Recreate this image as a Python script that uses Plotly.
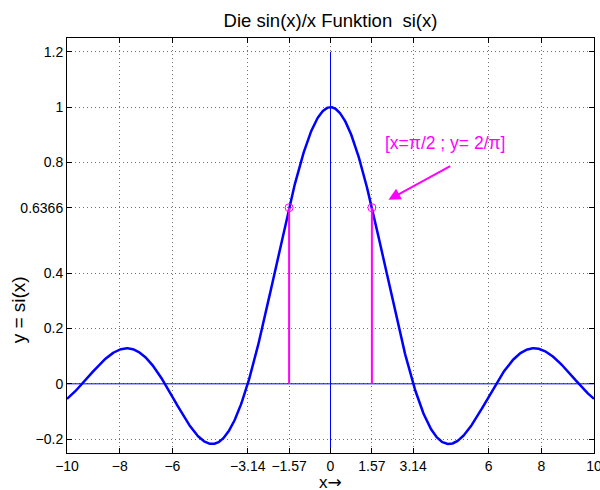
import numpy as np
import plotly.graph_objects as go

# data
x_range = [-10, 10]
y_range = [-0.25, 1.25]
x_tickvals = [-10, -8, -6, -3.14, -1.57, 0, 1.57, 3.14, 6, 8, 10]
x_ticktext = ["\u221210", "\u22128", "\u22126", "\u22123.14", "\u22121.57", "0", "1.57", "3.14", "6", "8", "10"]
y_tickvals = [-0.2, 0, 0.2, 0.4, 0.6366, 0.8, 1, 1.2]
y_ticktext = ["\u22120.2", "0", "0.2", "0.4", "0.6366", "0.8", "1", "1.2"]

# the plotted function si(x) = sin(x)/x
x = np.linspace(-10, 10, 801)
y = np.sinc(x / np.pi)

stem_x = [-np.pi / 2, np.pi / 2]
stem_y = [2 / np.pi, 2 / np.pi]

blue = "#0000FF"
mag = "#FF00FF"
font = "Liberation Sans, Arial"

fig = go.Figure()
fig.add_trace(go.Scatter(x=x_range, y=[0, 0], mode="lines", line=dict(color=blue, width=1), hoverinfo="skip"))
fig.add_trace(go.Scatter(x=[0, 0], y=[y_range[0], 1.2], mode="lines", line=dict(color=blue, width=1), hoverinfo="skip"))
fig.add_trace(go.Scatter(x=x, y=y, mode="lines", line=dict(color=blue, width=2.5)))
for sx, sy in zip(stem_x, stem_y):
    fig.add_trace(go.Scatter(x=[sx, sx], y=[0, sy], mode="lines", line=dict(color=mag, width=2)))
fig.add_trace(go.Scatter(x=stem_x, y=stem_y, mode="markers",
                         marker=dict(symbol="circle-open", size=8, color=mag, line=dict(width=1))))

axis_common = dict(
    showline=True, linecolor="black", linewidth=1, mirror="ticks",
    ticks="inside", ticklen=5, tickcolor="black",
    showgrid=True, gridcolor="#707070", griddash="1px,3px", gridwidth=1,
    zeroline=False, automargin=False, ticklabeloverflow="allow",
    tickfont=dict(family=font, size=14, color="black"),
)

fig.update_layout(
    width=600, height=490,
    margin=dict(l=67, r=6, t=38, b=37),
    plot_bgcolor="white", paper_bgcolor="white",
    showlegend=False,
    title=dict(text="Die sin(x)/x Funktion &nbsp;si(x)", x=0.5, xref="paper", xanchor="center",
               y=1 - 21 / 490, yref="container", yanchor="middle",
               font=dict(family=font, size=18.5, color="black")),
    xaxis=dict(range=x_range, tickvals=x_tickvals, ticktext=x_ticktext, **axis_common),
    yaxis=dict(range=y_range, tickvals=y_tickvals, ticktext=y_ticktext, **axis_common),
)

fig.add_annotation(x=0.5, y=-0.069, xref="paper", yref="paper", yanchor="middle",
                   text="x<span style='font-family:DejaVu Sans'>\u2192</span>", showarrow=False,
                   font=dict(family=font, size=17, color="black"))
fig.add_annotation(x=-0.092, y=0.345, xref="paper", yref="paper", xanchor="center", yanchor="middle",
                   text="y = si(x)", textangle=-90, showarrow=False,
                   font=dict(family=font, size=19, color="black"))

fig.add_annotation(x=4.33, y=0.872, xref="x", yref="y", text="[x=\u03c0/2 ; y= 2/\u03c0]", showarrow=False,
                   font=dict(family=font, size=17.5, color=mag))
fig.add_annotation(x=2.2, y=0.665, ax=4.6, ay=0.79, xref="x", yref="y", axref="x", ayref="y",
                   text="", showarrow=True, arrowhead=2, arrowsize=1.2, arrowwidth=2, arrowcolor=mag)

fig.write_html("out.html", config={"displayModeBar": False},
               post_script="document.body.style.margin='0px';")
